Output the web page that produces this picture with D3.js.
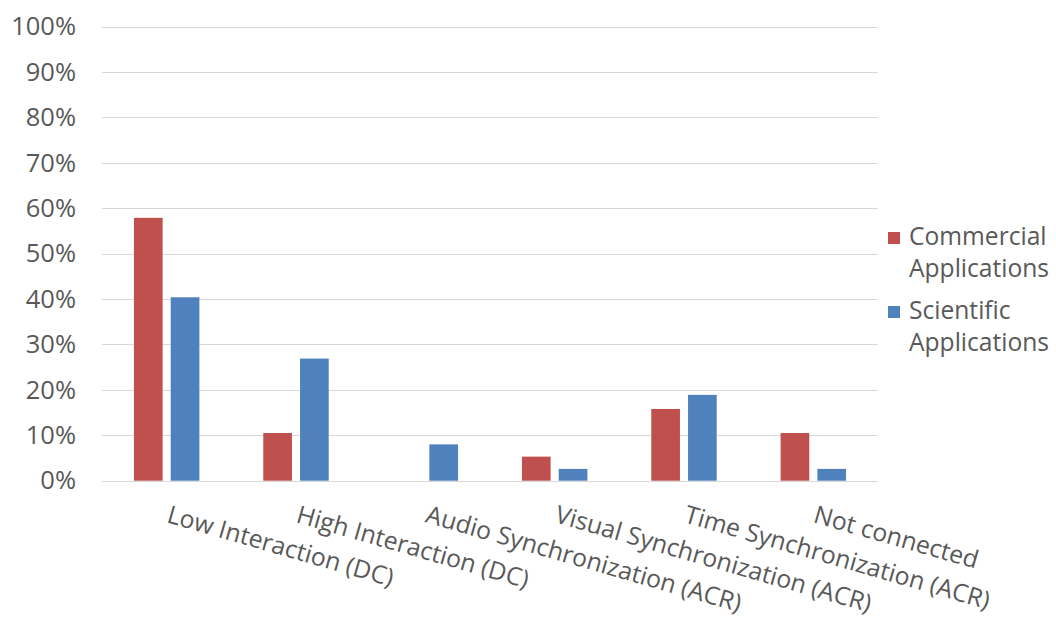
<!DOCTYPE html>
<html>
<head>
<meta charset="utf-8">
<script src="https://cdn.jsdelivr.net/npm/d3@7"></script>
<style>
  html, body { margin: 0; padding: 0; background: #ffffff; }
  svg { display: block; }
  text { font-family: "Open Sans", "Noto Sans", sans-serif; fill: #595959; }
</style>
</head>
<body>
<svg id="chart" width="1056" height="619"></svg>
<script>
// Categories along the x axis
const categories = [
  "Low Interaction (DC)",
  "High Interaction (DC)",
  "Audio Synchronization (ACR)",
  "Visual Synchronization (ACR)",
  "Time Synchronization (ACR)",
  "Not connected"
];
// Series names (legend) and their shares
const seriesNames = ["Commercial Applications", "Scientific Applications"];
const commercialValues = [0.579, 0.105, 0.0, 0.053, 0.158, 0.105];
const scientificValues = [0.404, 0.269, 0.080, 0.026, 0.189, 0.026];
// Y axis tick values
const yTicks = [0, 0.1, 0.2, 0.3, 0.4, 0.5, 0.6, 0.7, 0.8, 0.9, 1.0];

const colors = ["#C0504D", "#4F81BD"];
const seriesValues = [commercialValues, scientificValues];

const svg = d3.select("#chart");
const plot = { left: 102, right: 878, top: 26.7, bottom: 480.7 };

const x = d3.scaleBand()
  .domain(categories)
  .range([plot.left, plot.right])
  .paddingInner(0).paddingOuter(0);

const bw = x.bandwidth();
const xInner = d3.scaleBand()
  .domain(seriesNames)
  .range([bw * 0.247, bw * 0.753])
  .paddingInner(0.22).paddingOuter(0);

const y = d3.scaleLinear().domain([0, 1]).range([plot.bottom, plot.top]);

// Horizontal gridlines
svg.append("g")
  .selectAll("line")
  .data(yTicks)
  .join("line")
  .attr("x1", plot.left)
  .attr("x2", plot.right)
  .attr("y1", d => Math.round(y(d)) + 0.5)
  .attr("y2", d => Math.round(y(d)) + 0.5)
  .attr("stroke", "#d9d9d9")
  .attr("stroke-width", 1.2);

// Y axis labels
const yAxis = d3.axisLeft(y)
  .tickValues(yTicks)
  .tickFormat(d3.format(".0%"))
  .tickSize(0)
  .tickPadding(0);

const yg = svg.append("g")
  .attr("transform", `translate(${76},0)`)
  .call(yAxis);
yg.select(".domain").remove();
yg.selectAll("text")
  .attr("font-size", 25.5)
  .attr("font-family", "\"Open Sans\", \"Noto Sans\", sans-serif")
  .attr("fill", "#595959");

// Bars
const groups = svg.append("g")
  .selectAll("g")
  .data(seriesNames)
  .join("g")
  .attr("fill", (d, i) => colors[i]);

groups.selectAll("rect")
  .data((s, si) => categories.map((c, ci) => ({ series: s, cat: c, value: seriesValues[si][ci] })))
  .join("rect")
  .filter(d => d.value > 0)
  .attr("x", d => x(d.cat) + xInner(d.series))
  .attr("width", xInner.bandwidth())
  .attr("y", d => y(d.value))
  .attr("height", d => y(0) - y(d.value));

// Rotated category labels
const angle = 16;
svg.append("g")
  .selectAll("text")
  .data(categories)
  .join("text")
  .attr("transform", d => `translate(${x(d) + bw / 2 - 1},${522}) rotate(${angle})`)
  .attr("text-anchor", "start")
  .attr("font-size", 24.8)
  .text(d => d);

// Legend
const legendLines = [["Commercial", "Applications"], ["Scientific", "Applications"]];
const legend = svg.append("g").attr("transform", "translate(888,0)");
const legendBase = [245, 319];
legendLines.forEach((lines, i) => {
  legend.append("rect")
    .attr("x", 0)
    .attr("y", legendBase[i] - 13)
    .attr("width", 12)
    .attr("height", 12)
    .attr("fill", colors[i]);
  const t = legend.append("text")
    .attr("x", 21)
    .attr("y", legendBase[i])
    .attr("font-size", 24.6);
  lines.forEach((ln, j) => {
    t.append("tspan")
      .attr("x", 21)
      .attr("dy", j === 0 ? 0 : 31.5)
      .text(ln);
  });
});
</script>
</body>
</html>
